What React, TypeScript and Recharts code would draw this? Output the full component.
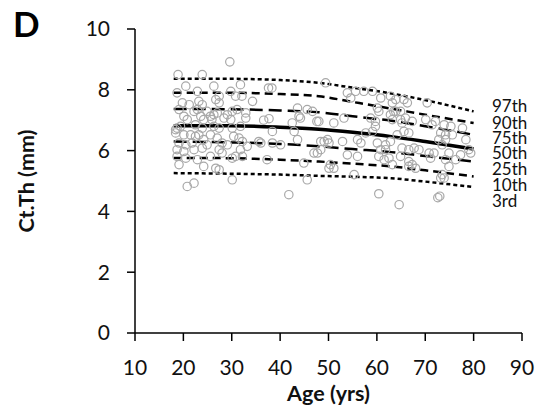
import {
  ComposedChart,
  Line,
  ReferenceDot,
  Scatter,
  XAxis,
  YAxis,
} from "recharts";

// percentile curves, read at these ages
const curveAges = [18, 30, 40, 48, 55, 63, 70, 80];
const p97 = [8.36, 8.36, 8.32, 8.23, 8.07, 7.88, 7.66, 7.29];
const p90 = [7.9, 7.9, 7.86, 7.79, 7.6, 7.38, 7.18, 6.91];
const p75 = [7.37, 7.36, 7.32, 7.26, 7.13, 6.98, 6.8, 6.52];
const p50 = [6.82, 6.82, 6.77, 6.7, 6.6, 6.46, 6.3, 6.05];
const p25 = [6.3, 6.27, 6.22, 6.14, 6.05, 5.95, 5.82, 5.64];
const p10 = [5.76, 5.75, 5.7, 5.64, 5.57, 5.48, 5.35, 5.15];
const p3 = [5.26, 5.24, 5.21, 5.17, 5.14, 5.09, 4.98, 4.8];

// individual subjects: [age, Ct.Th]
const subjects: [number, number][] = [
  [29.6, 8.92], [18.9, 8.5], [23.9, 8.5], [20.5, 8.12], [26.3, 8.12], [29.8, 7.95],
  [18.7, 7.9], [22.9, 7.95], [27.4, 7.79], [30.8, 7.79], [19.8, 7.57], [21.2, 7.51],
  [23.2, 7.62], [23.9, 7.51], [26.7, 7.68], [27.4, 7.57], [19.1, 7.35], [22.2, 7.29],
  [22.9, 7.35], [24.9, 7.29], [25.6, 7.13], [26.3, 7.18], [27.0, 7.24], [25.9, 7.02],
  [30.1, 7.29], [31.1, 7.35], [20.1, 7.13], [20.8, 7.02], [23.6, 7.13], [24.2, 7.02],
  [28.4, 7.07], [29.1, 7.18], [29.8, 7.02], [18.7, 6.74], [19.4, 6.8], [22.5, 6.85],
  [23.9, 6.74], [26.3, 6.8], [27.4, 6.74], [30.1, 6.74], [31.8, 6.8], [18.4, 6.58],
  [20.1, 6.52], [21.5, 6.52], [22.5, 6.47], [23.2, 6.52], [25.6, 6.52], [27.0, 6.41],
  [24.2, 6.36], [30.4, 6.47], [31.5, 6.41], [19.1, 6.25], [20.5, 6.19], [21.8, 6.25],
  [24.9, 6.19], [28.0, 6.25], [29.1, 6.19], [18.7, 6.03], [20.1, 5.97], [22.2, 6.03],
  [23.9, 6.08], [27.4, 6.03], [28.0, 5.92], [31.8, 6.03], [18.7, 5.81], [20.5, 5.75],
  [22.9, 5.7], [25.6, 5.81], [30.1, 5.75], [30.8, 5.81], [19.1, 5.54], [26.7, 5.42],
  [27.4, 5.37], [30.1, 5.04], [20.8, 4.82], [22.2, 4.93], [24.2, 5.48], [18.4, 6.69],
  [31.8, 8.17], [38.3, 8.06], [37.6, 8.06], [34.3, 7.62], [32.1, 7.79], [32.9, 7.24],
  [32.9, 7.07], [43.6, 7.4], [37.7, 7.05], [36.6, 7.0], [38.4, 6.63], [43.9, 7.13],
  [44.2, 7.07], [45.6, 7.35], [46.7, 7.29], [42.5, 6.91], [47.6, 6.96], [42.9, 6.63],
  [32.2, 6.3], [35.6, 6.3], [36.0, 6.25], [33.2, 6.14], [38.4, 6.25], [40.1, 6.19],
  [43.6, 6.36], [47.0, 5.92], [32.2, 5.81], [37.3, 5.7], [44.9, 5.59], [45.6, 5.04],
  [41.8, 4.55], [49.4, 8.23], [53.9, 7.9], [54.6, 7.73], [55.6, 7.95], [57.3, 7.95],
  [59.1, 7.95], [60.8, 7.73], [62.8, 7.79], [60.1, 7.4], [60.4, 7.29], [63.5, 7.29],
  [48.0, 6.96], [51.1, 6.91], [53.2, 7.07], [58.7, 7.07], [59.7, 6.96], [59.7, 6.8],
  [59.1, 6.63], [57.7, 6.58], [49.8, 6.36], [49.1, 6.3], [50.1, 6.25], [48.4, 6.3],
  [52.9, 6.3], [56.0, 6.36], [56.7, 6.25], [60.1, 6.25], [61.8, 6.19], [62.8, 6.3],
  [60.8, 6.03], [61.8, 6.03], [60.4, 5.81], [48.4, 6.03], [47.7, 5.92], [56.0, 5.81],
  [53.9, 5.86], [61.5, 5.7], [62.5, 5.75], [50.4, 5.54], [51.1, 5.42], [50.1, 5.42],
  [55.3, 5.21], [60.4, 4.58], [63.9, 7.68], [63.2, 7.57], [65.6, 7.68], [66.3, 7.57],
  [63.9, 7.29], [64.9, 7.29], [70.4, 7.57], [62.8, 7.18], [63.2, 7.02], [64.9, 7.02],
  [65.9, 7.07], [67.3, 6.96], [65.2, 6.91], [70.1, 7.02], [72.1, 6.96], [71.4, 6.85],
  [73.9, 6.85], [75.3, 6.8], [77.7, 6.74], [64.2, 6.52], [65.6, 6.63], [66.6, 6.58],
  [73.2, 6.58], [74.2, 6.52], [75.6, 6.52], [78.4, 6.36], [74.2, 6.36], [72.8, 6.36],
  [73.5, 6.19], [65.2, 6.08], [66.6, 6.03], [67.7, 6.08], [68.7, 6.03], [64.9, 5.81],
  [70.8, 5.92], [71.8, 5.92], [71.1, 5.75], [79.0, 6.03], [79.4, 5.92], [74.9, 5.92],
  [77.3, 5.86], [76.3, 5.7], [74.2, 5.7], [66.6, 5.64], [67.3, 5.54], [66.6, 5.48],
  [68.0, 5.42], [63.2, 5.54], [74.9, 5.48], [73.5, 5.21], [73.9, 5.1], [73.2, 5.1],
  [72.6, 4.45], [73.0, 4.5], [64.6, 4.22],
];

const curveTags = ["97th", "90th", "75th", "50th", "25th", "10th", "3rd"];
const tagLevels = [7.47, 6.94, 6.44, 5.94, 5.41, 4.88, 4.35];
const xTicks = [10, 20, 30, 40, 50, 60, 70, 80, 90];
const yTicks = [0, 2, 4, 6, 8, 10];

const curves = curveAges.map((age, i) => ({
  age,
  p97: p97[i],
  p90: p90[i],
  p75: p75[i],
  p50: p50[i],
  p25: p25[i],
  p10: p10[i],
  p3: p3[i],
}));
const points = subjects.map(([age, ctth]) => ({ age, ctth }));

const FONT = "Lato, 'Open Sans', sans-serif";
const tickStyle = { fontSize: 21, fill: "#111", fontFamily: FONT };

const Ring = (props: any) => (
  <circle cx={props.cx} cy={props.cy} r={4.2} fill="none" stroke="#a8a8a8" strokeWidth={1.2} />
);

const lineStyles = [
  { key: "p97", dash: "4 3", w: 2.5 },
  { key: "p90", dash: "8 5", w: 2.5 },
  { key: "p75", dash: "13 6", w: 2.5 },
  { key: "p50", dash: undefined, w: 3.5 },
  { key: "p25", dash: "13 6", w: 2.5 },
  { key: "p10", dash: "8 5", w: 2.5 },
  { key: "p3", dash: "4 3", w: 2.5 },
];

export default function App() {
  return (
    <div style={{ position: "absolute", left: 0, top: 0, width: 543, height: 411, background: "#fff" }}>
      <div
        style={{
          position: "absolute",
          left: 13,
          top: 6,
          fontFamily: FONT,
          fontWeight: 700,
          fontSize: 35,
          lineHeight: "35px",
        }}
      >
        D
      </div>
      <ComposedChart width={543} height={411} margin={{ top: 29, right: 21, bottom: 0, left: 0 }}>
        <XAxis
          type="number"
          dataKey="age"
          domain={[10, 90]}
          ticks={xTicks}
          interval={0}
          tickSize={8}
          tickMargin={19}
          height={78}
          axisLine={{ stroke: "#000", strokeWidth: 1.5 }}
          tickLine={{ stroke: "#000", strokeWidth: 1.5 }}
          tick={tickStyle}
          label={{
            content: (p: any) => (
              <text
                x={p.viewBox.x + p.viewBox.width / 2}
                y={p.viewBox.y + 68}
                textAnchor="middle"
                fontFamily={FONT}
                fontWeight={700}
                fontSize={21.5}
                fill="#111"
              >
                Age (yrs)
              </text>
            ),
          }}
        />
        <YAxis
          type="number"
          domain={[0, 10]}
          ticks={yTicks}
          interval={0}
          width={135}
          tickSize={8}
          tickMargin={17}
          axisLine={{ stroke: "#000", strokeWidth: 1.5 }}
          tickLine={{ stroke: "#000", strokeWidth: 1.5 }}
          tick={tickStyle}
          label={{
            content: (p: any) => {
              const cx = p.viewBox.x + 26;
              const cy = p.viewBox.y + p.viewBox.height / 2;
              return (
                <text
                  x={cx}
                  y={cy}
                  transform={`rotate(-90, ${cx}, ${cy})`}
                  textAnchor="middle"
                  dominantBaseline="central"
                  fontFamily={FONT}
                  fontWeight={700}
                  fontSize={21.5}
                  fill="#111"
                >
                  Ct.Th (mm)
                </text>
              );
            },
          }}
        />
        <Scatter data={points} dataKey="ctth" shape={Ring} isAnimationActive={false} />
        {lineStyles.map((s) => (
          <Line
            key={s.key}
            data={curves}
            dataKey={s.key}
            type="monotone"
            stroke="#000"
            strokeWidth={s.w}
            strokeDasharray={s.dash}
            dot={false}
            activeDot={false}
            isAnimationActive={false}
          />
        ))}
        {curveTags.map((t, i) => (
          <ReferenceDot
            key={t}
            x={83.8}
            y={tagLevels[i]}
            r={0}
            stroke="none"
            ifOverflow="visible"
            label={{
              content: (p: any) => (
                <text
                  x={p.viewBox.x}
                  y={p.viewBox.y}
                  dominantBaseline="central"
                  fontFamily={FONT}
                  fontSize={17}
                  fill="#111"
                >
                  {t}
                </text>
              ),
            }}
          />
        ))}
      </ComposedChart>
    </div>
  );
}
